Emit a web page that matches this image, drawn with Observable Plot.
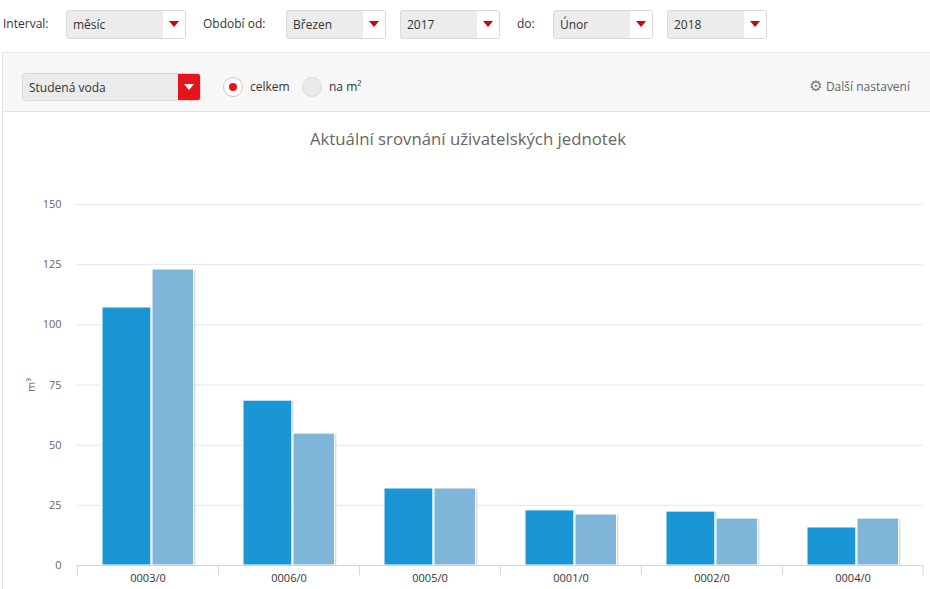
<!DOCTYPE html>
<html>
<head>
<meta charset="utf-8">
<script src="https://cdn.jsdelivr.net/npm/d3@7"></script>
<script src="https://cdn.jsdelivr.net/npm/@observablehq/plot@0.6"></script>
<style>
  html, body { margin: 0; padding: 0; background: #fff; }
  body { width: 930px; height: 589px; position: relative; overflow: hidden; font-family: "Open Sans", "DejaVu Sans", sans-serif; color: #333; }
  .abs { position: absolute; }
  .lbl { font-size: 12px; color: #333; line-height: 16px; }
  .sel { position: absolute; height: 27px; border: 1px solid #d9d9d9; border-radius: 3px; background: #ececec; box-sizing: border-box; overflow: hidden; }
  .sel .txt { position: absolute; left: 6px; top: 5px; font-size: 12px; color: #333; line-height: 16px; }
  .sel .btn { position: absolute; right: 0; top: 0; bottom: 0; width: 22px; background: #fff; }
  .sel .btn::after { content: ""; position: absolute; left: 6px; top: 10px; border-left: 5px solid transparent; border-right: 5px solid transparent; border-top: 6px solid #d4000f; }
  .sel.red .btn { background: #e8141b; }
  .sel.red .btn::after { border-top-color: #fff; }
  #toolbar { position: absolute; left: 2px; top: 52px; width: 930px; height: 58px; background: #f7f7f7; border-top: 1px solid #e6e6e6; border-bottom: 1px solid #e3e3e3; border-left: 1px solid #e3e3e3; }
  #chartArea { position: absolute; left: 2px; top: 111px; width: 930px; height: 478px; border-left: 1px solid #e3e3e3; }
  #title { position: absolute; left: 2px; width: 932px; top: 128px; text-align: center; font-size: 16.8px; color: #666; line-height: 22px; }
  #chart { position: absolute; left: 0; top: 150px; }
</style>
</head>
<body>
<div class="abs lbl" style="left:3px;top:16px;">Interval:</div>
<div class="sel" style="left:66px;top:10px;width:120px;height:29px;"><span class="txt" style="top:6px">měsíc</span><span class="btn"></span></div>
<div class="abs lbl" style="left:203px;top:16px;">Období od:</div>
<div class="sel" style="left:286px;top:10px;width:100px;height:29px;"><span class="txt" style="top:6px">Březen</span><span class="btn"></span></div>
<div class="sel" style="left:400px;top:10px;width:100px;height:29px;"><span class="txt" style="top:6px">2017</span><span class="btn"></span></div>
<div class="abs lbl" style="left:517px;top:16px;">do:</div>
<div class="sel" style="left:553px;top:10px;width:100px;height:29px;"><span class="txt" style="top:6px">Únor</span><span class="btn"></span></div>
<div class="sel" style="left:667px;top:10px;width:100px;height:29px;"><span class="txt" style="top:6px">2018</span><span class="btn"></span></div>

<div id="toolbar"></div>
<div class="sel red" style="left:22px;top:73px;width:179px;height:28px;background:#ebebeb;"><span class="txt" style="top:6px">Studená voda</span><span class="btn"></span></div>
<div class="abs" style="left:223px;top:77px;width:18px;height:18px;border-radius:50%;border:1px solid #c8c8c8;background:#fff;"></div>
<div class="abs" style="left:229px;top:83px;width:8px;height:8px;border-radius:50%;background:#e8141b;"></div>
<div class="abs lbl" style="left:250px;top:79px;">celkem</div>
<div class="abs" style="left:302px;top:77px;width:18px;height:18px;border-radius:50%;border:1px solid #dcdcdc;background:#ebebeb;"></div>
<div class="abs lbl" style="left:329px;top:79px;">na m²</div>
<div class="abs lbl" style="right:20px;top:78px;color:#666;"><span style="font-family:'DejaVu Sans';font-size:15px;color:#777;">⚙</span> Další nastavení</div>

<div id="chartArea"></div>
<div id="title">Aktuální srovnání uživatelských jednotek</div>
<div id="chart"></div>

<script>
// ---- data ----
const units = ["0003/0", "0006/0", "0005/0", "0001/0", "0002/0", "0004/0"];
const seriesA = [107.2, 68.5, 32.0, 22.9, 22.4, 15.8];   // dark blue
const seriesB = [123.0, 54.8, 32.0, 21.2, 19.5, 19.5];   // light blue
const yTicks = [0, 25, 50, 75, 100, 125, 150];
const yLabel = "m³";

const rowsA = units.map((u, i) => ({unit: u, value: seriesA[i]}));
const rowsB = units.map((u, i) => ({unit: u, value: seriesB[i]}));

const W = 930, H = 439, mL = 76, mR = 7, mT = 54, mB = 24;
const bw = (W - mL - mR) / units.length;
const aL = 25, aW = 49, bL = 75, bR = 24.5;

const fontFam = "'Open Sans', 'DejaVu Sans', sans-serif";

const chart = Plot.plot({
  width: W, height: H,
  marginLeft: mL, marginRight: mR, marginTop: mT, marginBottom: mB,
  style: {fontFamily: fontFam, fontSize: "11px", background: "transparent"},
  x: {domain: units, padding: 0},
  y: {domain: [0, 150]},
  marks: [
    Plot.gridY(yTicks, {stroke: "#e6e6e6", strokeOpacity: 1}),
    // shadows
    Plot.barY(rowsA, {x: "unit", y: "value", insetLeft: aL, insetRight: bw - aL - aW, fill: "#000", fillOpacity: 0.10, dx: 2, dy: 1}),
    Plot.barY(rowsB, {x: "unit", y: "value", insetLeft: bL, insetRight: bR, fill: "#000", fillOpacity: 0.10, dx: 2, dy: 1}),
    Plot.barY(rowsA, {x: "unit", y: "value", insetLeft: aL, insetRight: bw - aL - aW, fill: "#000", fillOpacity: 0.08, dx: 1, dy: 0}),
    Plot.barY(rowsB, {x: "unit", y: "value", insetLeft: bL, insetRight: bR, fill: "#000", fillOpacity: 0.08, dx: 1, dy: 0}),
    // bars
    Plot.barY(rowsA, {x: "unit", y: "value", insetLeft: aL, insetRight: bw - aL - aW, fill: "#1a96d4", stroke: "#fff", strokeWidth: 1}),
    Plot.barY(rowsB, {x: "unit", y: "value", insetLeft: bL, insetRight: bR, fill: "#7fb5d8", stroke: "#fff", strokeWidth: 1}),
    Plot.ruleY([0], {stroke: "#ccd6eb"}),
    // x tick marks at category boundaries
    Plot.ruleX(units, {x: d => d, y1: 0, y2: 0, insetBottom: -10, dx: -bw / 2, stroke: "#ccd6eb"}),
    Plot.ruleX(units.slice(-1), {x: d => d, y1: 0, y2: 0, insetBottom: -10, dx: bw / 2 - 0.5, stroke: "#ccd6eb"}),
    Plot.axisX({tickSize: 0, tickPadding: 9, label: null, fill: "#333", fontSize: 11, letterSpacing: "0.5px"}),
    Plot.axisY({ticks: yTicks, tickSize: 0, tickPadding: 15, fill: "#666", fontSize: 11,
      label: yLabel, labelAnchor: "center", labelOffset: 49, labelArrow: "none"})
  ]
});
document.getElementById("chart").appendChild(chart);
</script>
</body>
</html>
